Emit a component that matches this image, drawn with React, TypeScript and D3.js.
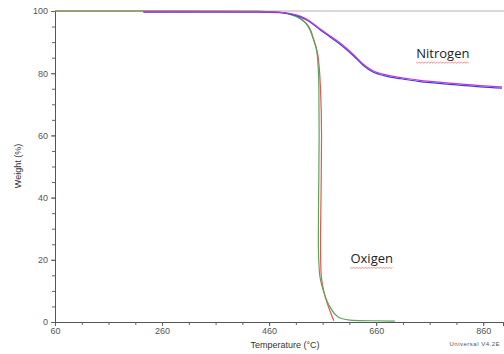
import * as d3 from 'd3';
import React, { useEffect, useRef } from 'react';

// TGA curves, temperature (°C) vs weight (%)
const nitrogenA: [number, number][] = [
    [225, 99.8], [440, 99.7], [480, 99.6], [500, 99.2], [518, 98.4], [535, 96.9], [555, 94.3],
    [575, 91.9], [595, 89.4], [617, 86.1], [636, 82.9], [654, 80.8], [681, 79.4], [718, 78.3],
    [742, 77.7], [792, 76.9], [854, 76.0], [895, 75.6],
];
const nitrogenB: [number, number][] = [
    [225, 99.6], [440, 99.6], [480, 99.5], [500, 99.0], [518, 98.1], [535, 96.6], [555, 94.0],
    [575, 91.5], [595, 89.0], [617, 85.7], [636, 82.5], [654, 80.4], [681, 79.0], [718, 77.9],
    [742, 77.3], [792, 76.5], [854, 75.6], [895, 75.2],
];
const oxygenA: [number, number][] = [
    [60, 100], [300, 100], [440, 99.9], [480, 99.6], [505, 98.6], [531, 95.5], [542, 91.3],
    [550, 85.9], [553, 75], [553.5, 60], [552.5, 40], [552, 25], [554, 16], [561, 10.3], [574, 4.8],
    [589, 1.6], [611, 0.6], [650, 0.4], [695, 0.3],
];
const oxygenB: [number, number][] = [
    [60, 100], [300, 100], [440, 99.9], [480, 99.6], [505, 98.7], [531, 95.7], [543, 91],
    [551, 86], [556, 75], [558, 60], [557, 40], [556, 25], [557, 16], [565, 8], [575, 3], [581, 0.4],
];

const xMajor = [60, 260, 460, 660, 860];
const yMajor = [0, 20, 40, 60, 80, 100];

export default () => {
    const ref = useRef<any>();

    useEffect(() => {
        const svg = d3.select<any, any>(ref.current);
        svg.selectAll('*').remove();

        const x = d3.scaleLinear().domain([60, 897]).range([55, 503]);
        const y = d3.scaleLinear().domain([0, 100]).range([322, 11]);

        // top frame line
        svg.append('line')
            .attr('x1', 55).attr('x2', 504).attr('y1', y(100)).attr('y2', y(100))
            .attr('stroke', '#b0b0b0').attr('stroke-width', 1);

        // minor ticks
        const xMinor = d3.range(60, 897, 50);
        const yMinor = d3.range(0, 101, 5);

        const xAxis = d3.axisBottom(x).tickValues(xMajor).tickSize(4).tickFormat(d3.format('d') as any);
        const xMinorAxis = d3.axisBottom(x).tickValues(xMinor).tickSize(3).tickFormat(() => '');
        const yAxis = d3.axisLeft(y).tickValues(yMajor).tickSize(4);
        const yMinorAxis = d3.axisLeft(y).tickValues(yMinor).tickSize(3).tickFormat(() => '');

        const styleAxis = (g: any) => {
            g.select('.domain').attr('stroke', '#555');
            g.selectAll('.tick line').attr('stroke', '#666');
            g.selectAll('.tick text')
                .attr('fill', '#555')
                .attr('font-family', 'Liberation Sans, Arial, sans-serif')
                .attr('font-size', 9);
        };

        svg.append('g').attr('transform', 'translate(0,322)').call(xMinorAxis).call(styleAxis);
        svg.append('g').attr('transform', 'translate(0,322)').call(xAxis).call(styleAxis)
            .selectAll('.tick text').attr('dy', '0.6em');
        svg.append('g').attr('transform', 'translate(55,0)').call(yMinorAxis).call(styleAxis);
        svg.append('g').attr('transform', 'translate(55,0)').call(yAxis).call(styleAxis);

        const lineY = d3.line<[number, number]>().x((d) => x(d[0])).y((d) => y(d[1])).curve(d3.curveMonotoneY);
        const lineX = d3.line<[number, number]>().x((d) => x(d[0])).y((d) => y(d[1])).curve(d3.curveMonotoneX);

        const curves: [[number, number][], string, any][] = [
            [oxygenB, '#e85555', lineY],
            [oxygenA, '#5aa55a', lineY],
            [nitrogenB, '#3b3bf0', lineX],
            [nitrogenA, '#c03cc8', lineX],
        ];
        curves.forEach(([data, color, gen]) => {
            svg.append('path')
                .attr('d', gen(data))
                .attr('fill', 'none')
                .attr('stroke', color)
                .attr('stroke-width', 1.2);
        });

        // annotations
        const labels = [
            { text: 'Nitrogen', tx: 735, ty: 85 },
            { text: 'Oxigen', tx: 612, ty: 19 },
        ];
        labels.forEach((l) => {
            const t = svg.append('text')
                .attr('x', x(l.tx)).attr('y', y(l.ty))
                .attr('font-family', 'Open Sans, sans-serif')
                .attr('font-size', 13)
                .attr('fill', '#222')
                .text(l.text);
            const bb = (t.node() as any).getBBox();
            const pts: [number, number][] = d3.range(bb.x, bb.x + bb.width, 1.5)
                .map((px: number, i: number) => [px, bb.y + bb.height + 0.5 + (i % 2 ? 1 : 0)]);
            svg.append('path')
                .attr('d', d3.line()(pts))
                .attr('fill', 'none')
                .attr('stroke', '#e04a4a')
                .attr('stroke-width', 0.6);
        });

        svg.append('text')
            .attr('x', 285).attr('y', 348)
            .attr('text-anchor', 'middle')
            .attr('font-family', 'Liberation Sans, Arial, sans-serif')
            .attr('font-size', 9).attr('fill', '#333')
            .text('Temperature (°C)');

        svg.append('text')
            .attr('transform', 'translate(21,166) rotate(-90)')
            .attr('text-anchor', 'middle')
            .attr('font-family', 'Liberation Sans, Arial, sans-serif')
            .attr('font-size', 9).attr('fill', '#333')
            .text('Weight (%)');

        svg.append('text')
            .attr('x', 500).attr('y', 346)
            .attr('text-anchor', 'end')
            .attr('font-family', 'Liberation Sans, Arial, sans-serif')
            .attr('font-size', 6).attr('fill', '#555')
            .attr('letter-spacing', 0.5)
            .text('Universal V4.2E');
    }, []);

    return (
        <svg ref={ref} width={504} height={354}
            style={{ position: 'absolute', left: 0, top: 0, background: '#fff' }}></svg>
    );
};
